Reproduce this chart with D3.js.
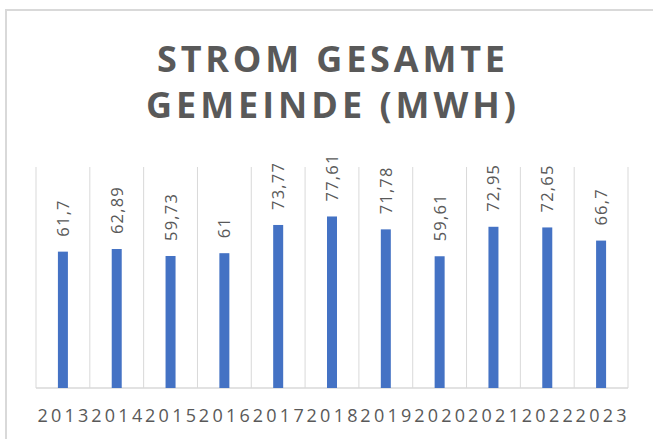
<!DOCTYPE html>
<html>
<head>
<meta charset="utf-8">
<script src="https://cdn.jsdelivr.net/npm/d3@7"></script>
<style>
    body { margin: 0; background: #fff; }
    svg { display: block; }
</style>
</head>
<body>
<div id="chart"></div>
<script>
// values (MWh per year)
const years = ["2013", "2014", "2015", "2016", "2017", "2018", "2019", "2020", "2021", "2022", "2023"];
const values = [61.7, 62.89, 59.73, 61, 73.77, 77.61, 71.78, 59.61, 72.95, 72.65, 66.7];
const valueLabels = ["61,7", "62,89", "59,73", "61", "73,77", "77,61", "71,78", "59,61", "72,95", "72,65", "66,7"];
const titleLines = ["STROM GESAMTE", "GEMEINDE (MWH)"];

const width = 653, height = 439;
const margin = {top: 167, right: 25, bottom: 51, left: 36};
const textColor = "#595959";
const gridColor = "#d9d9d9";
const font = "'Open Sans', sans-serif";

const svg = d3.select("#chart").append("svg")
    .attr("width", width)
    .attr("height", height);

// chart frame
svg.append("rect")
    .attr("x", 6).attr("y", 10)
    .attr("width", width + 10).attr("height", height + 10)
    .attr("fill", "none")
    .attr("stroke", gridColor)
    .attr("stroke-width", 2);

// title
svg.append("g")
    .selectAll("text")
    .data(titleLines)
    .join("text")
    .attr("x", 331)
    .attr("y", (d, i) => 72 + i * 45.5)
    .attr("text-anchor", "middle")
    .attr("font-family", font)
    .attr("font-weight", "bold")
    .attr("font-size", 36)
    .attr("fill", textColor)
    .attr("textLength", (d, i) => i === 0 ? 348 : 370)
    .attr("lengthAdjust", "spacing")
    .text(d => d);

const x = d3.scaleBand()
    .domain(years)
    .range([margin.left, width - margin.right]);

const y = d3.scaleLinear()
    .domain([0, 100])
    .range([height - margin.bottom, margin.top]);

const plot = svg.append("g");

// vertical category gridlines
const edges = years.map(d => x(d)).concat([x.range()[1]]);
plot.selectAll("line.grid")
    .data(edges)
    .join("line")
    .classed("grid", true)
    .attr("x1", d => d).attr("x2", d => d)
    .attr("y1", y(100)).attr("y2", y(0))
    .attr("stroke", gridColor)
    .attr("stroke-width", 1);

// baseline
plot.append("line")
    .attr("x1", x.range()[0]).attr("x2", x.range()[1])
    .attr("y1", y(0)).attr("y2", y(0))
    .attr("stroke", gridColor)
    .attr("stroke-width", 1.5);

const barWidth = 10;

plot.selectAll("rect.bar")
    .data(values)
    .join("rect")
    .classed("bar", true)
    .attr("x", (d, i) => x(years[i]) + x.bandwidth() / 2 - barWidth / 2)
    .attr("y", d => y(d))
    .attr("width", barWidth)
    .attr("height", d => y(0) - y(d))
    .attr("fill", "#4472c4");

// rotated value labels
plot.selectAll("text.value")
    .data(values)
    .join("text")
    .classed("value", true)
    .attr("transform", (d, i) => "translate(" + (x(years[i]) + x.bandwidth() / 2 + 6) + "," + (y(d) - 15) + ") rotate(-90)")
    .attr("font-family", font)
    .attr("font-size", 16.5)
    .attr("letter-spacing", 1.2)
    .attr("fill", textColor)
    .text((d, i) => valueLabels[i]);

// category labels
svg.append("g")
    .selectAll("text")
    .data(years)
    .join("text")
    .attr("x", d => x(d) + x.bandwidth() / 2)
    .attr("y", 422)
    .attr("text-anchor", "middle")
    .attr("font-family", font)
    .attr("font-size", 18)
    .attr("fill", textColor)
    .attr("textLength", 51)
    .attr("lengthAdjust", "spacing")
    .text(d => d);
</script>
</body>
</html>
